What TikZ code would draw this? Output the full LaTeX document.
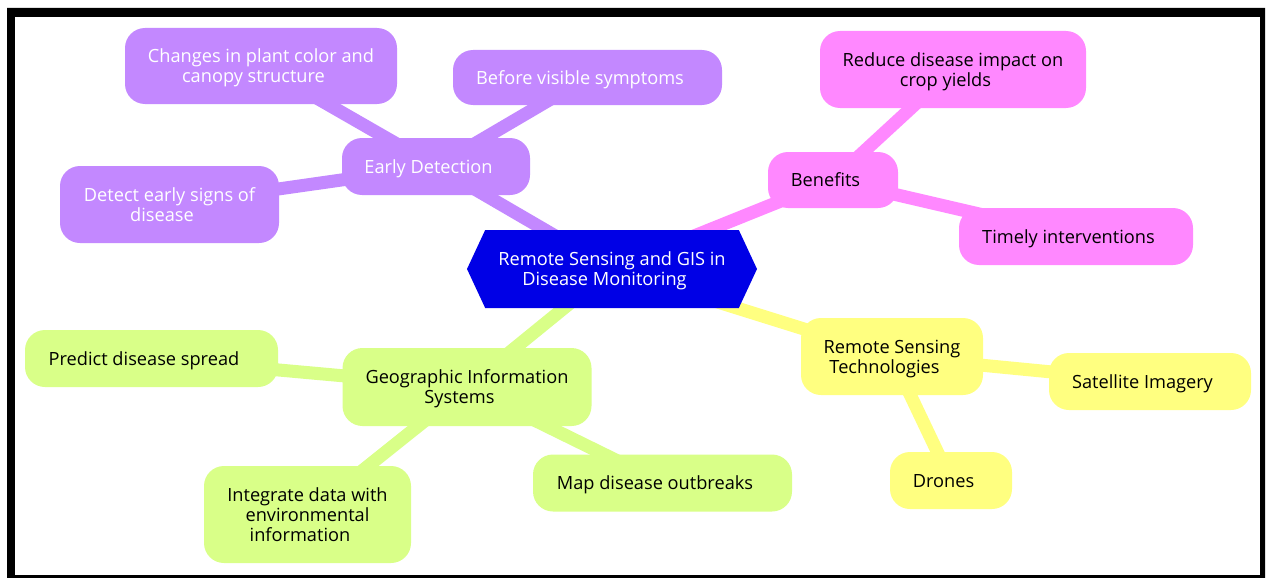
\documentclass[tikz,border=0pt]{standalone}
\usepackage{fontspec}
\setmainfont{Open Sans}
\usetikzlibrary{backgrounds,shapes.symbols}
\definecolor{purp}{HTML}{C388FF}
\definecolor{pnk}{HTML}{FF88FF}
\definecolor{yel}{HTML}{FFFF80}
\definecolor{grn}{HTML}{D9FF88}
\definecolor{hexblue}{HTML}{0000E6}
\newcommand\trl{\hspace*{15pt}}
\begin{document}
\begin{tikzpicture}[x=1pt,y=-1pt,
  box/.style={rounded corners=20pt, align=center, inner sep=0pt, text depth=0pt,
    font=\fontsize{18.2}{20}\selectfont, text=black},
  pbox/.style={box, fill=purp, text=white},
  kbox/.style={box, fill=pnk},
  ybox/.style={box, fill=yel},
  gbox/.style={box, fill=grn},
  link/.style={line width=13pt, line cap=butt}]
\useasboundingbox (0,0) rectangle (1266,578);
% nodes
\node[signal, signal to=east and west, signal pointer angle=130, fill=hexblue,
  text=white, align=center, inner sep=0pt, text depth=0pt, minimum width=290pt, minimum height=78pt,
  font=\fontsize{18.2}{20}\selectfont] (ctr) at (612,269) {Remote Sensing and GIS in\\Disease Monitoring\trl};

\node[pbox, minimum width=188pt, minimum height=57pt] (ed) at (436,166.5) {Early Detection\trl};
\node[pbox, minimum width=272pt, minimum height=76pt] (chg) at (261,66) {Changes in plant color and\\canopy structure\trl};
\node[pbox, minimum width=269pt, minimum height=55pt] (bvs) at (587.5,77.5) {Before visible symptoms\trl};
\node[pbox, minimum width=219pt, minimum height=77pt] (des) at (169.5,204.5) {Detect early signs of\\disease\trl};

\node[kbox, minimum width=130pt, minimum height=56pt] (ben) at (833,180) {Benefits\trl};
\node[kbox, minimum width=266pt, minimum height=77pt] (red) at (953,69.5) {Reduce disease impact on\\crop yields\trl};
\node[kbox, minimum width=234pt, minimum height=57pt] (tim) at (1076,236.5) {Timely interventions\trl};

\node[ybox, minimum width=182pt, minimum height=77pt] (rst) at (892,356.5) {Remote Sensing\\Technologies\trl};
\node[ybox, minimum width=202pt, minimum height=57pt] (sat) at (1150,381.5) {Satellite Imagery\trl};
\node[ybox, minimum width=122pt, minimum height=57pt] (dro) at (951,480.5) {Drones\trl};

\node[gbox, minimum width=249pt, minimum height=78pt] (gis) at (467,387) {Geographic Information\\Systems\trl};
\node[gbox, minimum width=253pt, minimum height=57pt] (pds) at (151.5,358.5) {Predict disease spread\trl};
\node[gbox, minimum width=207pt, minimum height=97pt] (int) at (307.5,514.5) {Integrate data with\\environmental\\information\trl};
\node[gbox, minimum width=259pt, minimum height=57pt] (map) at (662.5,483) {Map disease outbreaks\trl};

\begin{scope}[on background layer]
  \fill[black, even odd rule] (7,8) rectangle (1265,578) (15,17) rectangle (1260,575);
  \fill[white] (15,17) rectangle (1260,575);
  \draw[link, purp] (ctr.center) -- (ed.center);
  \draw[link, purp] (ed.center) -- (chg.center);
  \draw[link, purp] (ed.center) -- (bvs.center);
  \draw[link, purp] (ed.center) -- (des.center);
  \draw[link, pnk] (ctr.center) -- (ben.center);
  \draw[link, pnk] (ben.center) -- (red.center);
  \draw[link, pnk] (ben.center) -- (tim.center);
  \draw[link, yel] (ctr.center) -- (rst.center);
  \draw[link, yel] (rst.center) -- (sat.center);
  \draw[link, yel] (rst.center) -- (dro.center);
  \draw[link, grn] (ctr.center) -- (gis.center);
  \draw[link, grn] (gis.center) -- (pds.center);
  \draw[link, grn] (gis.center) -- (int.center);
  \draw[link, grn] (gis.center) -- (map.center);
\end{scope}
\end{tikzpicture}
\end{document}
